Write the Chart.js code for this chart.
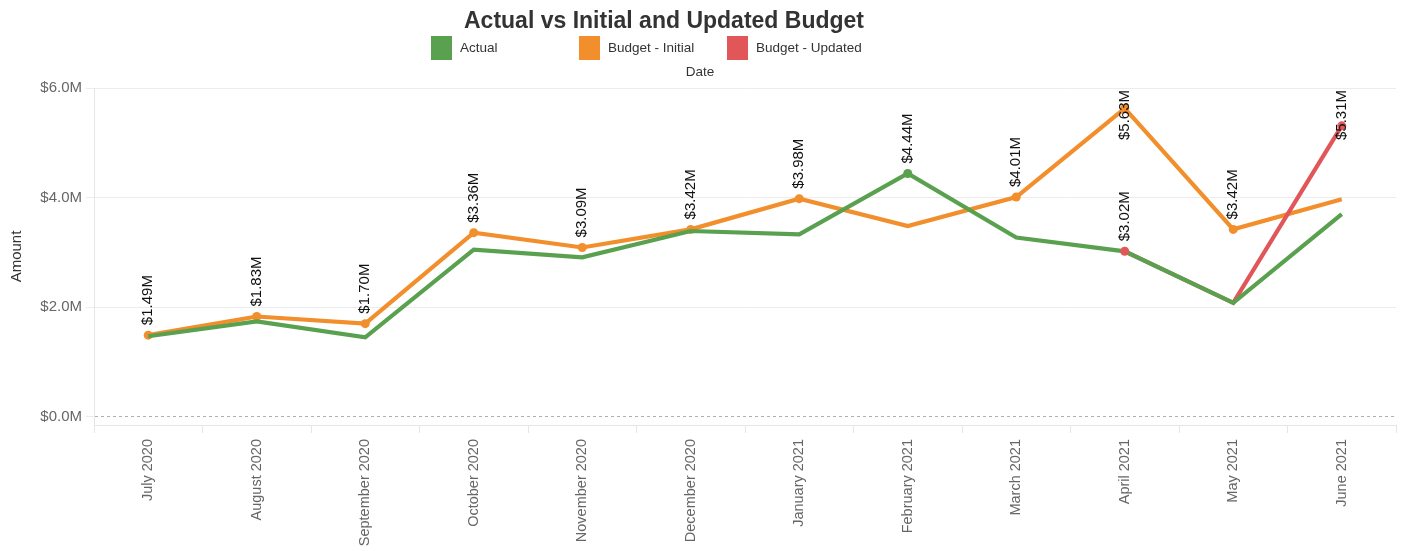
<!DOCTYPE html>
<html lang="en">
<head>
  <meta charset="UTF-8">
  <title>Actual vs Initial and Updated Budget</title>
  <style>
    body {
      margin: 0;
      padding: 0;
      background: #ffffff;
      font-family: 'Liberation Sans', Arial, sans-serif;
      color: #333;
    }

    #wrap {
      position: relative;
      width: 1403px;
      height: 551px;
    }

    #budgetChart {
      position: absolute;
      left: 0;
      top: 0;
    }

    .title {
      position: absolute;
      left: 0;
      top: 6px;
      width: 1328px;
      text-align: center;
      font-size: 23px;
      line-height: 28px;
      font-weight: bold;
      color: #333;
    }

    .legend-item {
      position: absolute;
      top: 36px;
      height: 24px;
      line-height: 24px;
      font-size: 13.5px;
      color: #333;
      white-space: nowrap;
    }

    .legend-item span.box {
      position: absolute;
      left: 0;
      top: 0;
      width: 21px;
      height: 24px;
    }

    .legend-item span.txt {
      position: absolute;
      left: 29px;
      top: 0;
    }

    .axis-title {
      position: absolute;
      left: 0;
      top: 62px;
      width: 1400px;
      text-align: center;
      font-size: 13.5px;
      line-height: 20px;
      color: #333;
    }
  </style>
</head>
<body>
  <div id="wrap">
    <canvas id="budgetChart" width="1403" height="551"></canvas>
    <div class="title">Actual vs Initial and Updated Budget</div>
    <div class="legend-item" style="left:431px"><span class="box" style="background:#59A14F"></span><span class="txt">Actual</span></div>
    <div class="legend-item" style="left:579px"><span class="box" style="background:#F28E2B"></span><span class="txt">Budget - Initial</span></div>
    <div class="legend-item" style="left:727px"><span class="box" style="background:#E15759"></span><span class="txt">Budget - Updated</span></div>
    <div class="axis-title">Date</div>
  </div>

  <script src="https://cdn.jsdelivr.net/npm/chart.js"></script>

  <script>
    const FONT = "'Liberation Sans', Arial, sans-serif";

    // data (millions of dollars)
    const months = ['July 2020', 'August 2020', 'September 2020', 'October 2020', 'November 2020', 'December 2020',
                    'January 2021', 'February 2021', 'March 2021', 'April 2021', 'May 2021', 'June 2021'];
    const actual        = [1.47, 1.74, 1.45, 3.05, 2.91, 3.39, 3.33, 4.44, 3.27, 3.02, 2.08, 3.70];
    const budgetInitial = [1.49, 1.83, 1.70, 3.36, 3.09, 3.42, 3.98, 3.48, 4.01, 5.63, 3.42, 3.97];
    const budgetUpdated = [null, null, null, null, null, null, null, null, null, 3.02, 2.08, 5.31];
    const yTicks = [0, 2, 4, 6];

    // which points carry a marker + value label
    const actualMarks  = [0, 0, 0, 0, 0, 0, 0, 1, 0, 0, 0, 0];
    const initialMarks = [1, 1, 1, 1, 1, 1, 1, 0, 1, 1, 1, 0];
    const updatedMarks = [0, 0, 0, 0, 0, 0, 0, 0, 0, 1, 0, 1];

    const GREEN = '#59A14F', ORANGE = '#F28E2B', RED = '#E15759';

    const radii = marks => marks.map(m => m ? 4.5 : 0);

    // rotated value labels above marked points, kept inside the plot top
    const valueLabels = {
      id: 'valueLabels',
      afterDatasetsDraw(chart) {
        const { ctx, chartArea } = chart;
        ctx.save();
        ctx.font = '15px ' + FONT;
        ctx.fillStyle = '#111';
        ctx.textAlign = 'left';
        ctx.textBaseline = 'middle';
        chart.data.datasets.forEach((ds, di) => {
          if (!ds.labelMarks) return;
          const meta = chart.getDatasetMeta(di);
          ds.labelMarks.forEach((m, i) => {
            if (!m || ds.data[i] == null) return;
            const pt = meta.data[i];
            const text = '$' + ds.data[i].toFixed(2) + 'M';
            const w = ctx.measureText(text).width;
            let start = pt.y - 10;
            if (start - w < chartArea.top + 2) start = chartArea.top + 2 + w;
            ctx.save();
            ctx.translate(pt.x, start);
            ctx.rotate(-Math.PI / 2);
            ctx.fillText(text, 0, 0);
            ctx.restore();
          });
        });
        ctx.restore();
      }
    };

    const chart = new Chart(document.getElementById('budgetChart'), {
      type: 'line',
      data: {
        labels: months,
        datasets: [
          {
            label: 'Budget - Updated (markers)',
            data: budgetUpdated,
            showLine: false,
            pointRadius: radii(updatedMarks),
            pointBackgroundColor: RED,
            pointBorderWidth: 0,
            labelMarks: updatedMarks
          },
          {
            label: 'Actual',
            data: actual,
            borderColor: GREEN,
            borderWidth: 4.2,
            pointRadius: radii(actualMarks),
            pointBackgroundColor: GREEN,
            pointBorderWidth: 0,
            labelMarks: actualMarks
          },
          {
            label: 'Budget - Updated',
            data: budgetUpdated,
            borderColor: RED,
            borderWidth: 4.2,
            pointRadius: 0
          },
          {
            label: 'Budget - Initial',
            data: budgetInitial,
            borderColor: ORANGE,
            borderWidth: 4.2,
            pointRadius: radii(initialMarks),
            pointBackgroundColor: ORANGE,
            pointBorderWidth: 0,
            labelMarks: initialMarks
          }
        ]
      },
      options: {
        responsive: false,
        animation: false,
        layout: { padding: { top: 88, right: 7, left: 0, bottom: 0 } },
        plugins: {
          legend: { display: false },
          tooltip: { enabled: false }
        },
        scales: {
          x: {
            offset: true,
            afterFit: s => { s.height = 126; },
            grid: {
              offset: true,
              drawOnChartArea: false,
              drawTicks: true,
              tickLength: 8,
              color: '#e6e6e6'
            },
            border: { display: true, color: '#e6e6e6' },
            ticks: {
              minRotation: 90,
              maxRotation: 90,
              autoSkip: false,
              padding: 6,
              color: '#666',
              font: { family: FONT, size: 14.5 }
            }
          },
          y: {
            min: -0.15,
            max: 6,
            afterBuildTicks: s => { s.ticks = yTicks.map(v => ({ value: v })); },
            afterFit: s => { s.width = 94; },
            title: {
              display: true,
              text: 'Amount',
              color: '#333',
              font: { family: FONT, size: 15 },
              padding: { top: 8, bottom: 0 }
            },
            grid: {
              color: c => (c.tick && c.tick.value === 0) ? '#b0b0b0' : '#ececec',
              tickColor: '#ececec',
              tickLength: 8,
              lineWidth: 1
            },
            border: {
              display: true,
              color: '#e6e6e6',
              dash: c => (c.tick && c.tick.value === 0) ? [3, 3] : []
            },
            ticks: {
              padding: 4,
              color: '#666',
              font: { family: FONT, size: 15 },
              callback: v => '$' + Number(v).toFixed(1) + 'M'
            }
          }
        }
      },
      plugins: [valueLabels]
    });
  </script>
</body>
</html>
